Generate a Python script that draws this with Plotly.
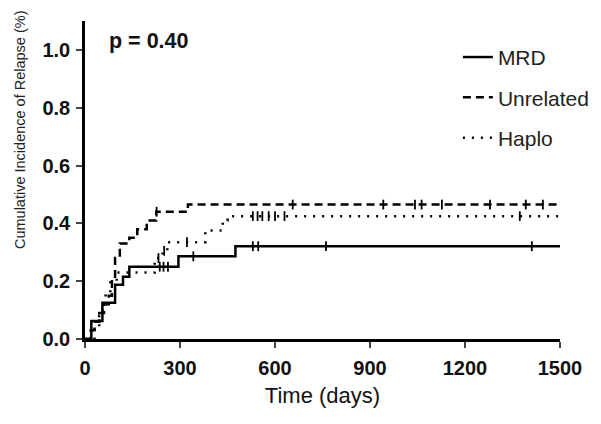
import numpy as np
import plotly.graph_objects as go

# ---- data ----
mrd_t = [0, 20, 55, 95, 120, 140, 295, 475, 1500]
mrd_v = [0, 0.0625, 0.125, 0.1875, 0.215, 0.25, 0.286, 0.321, 0.321]
mrd_cens = [236, 248, 262, 342, 530, 547, 761, 1411]

unr_t = [0, 18, 30, 45, 60, 75, 85, 95, 110, 140, 165, 195, 225, 325, 1500]
unr_v = [0, 0.03, 0.06, 0.09, 0.12, 0.15, 0.20, 0.28, 0.33, 0.35, 0.38, 0.41, 0.44, 0.465, 0.465]
unr_cens = [226, 656, 942, 1042, 1063, 1127, 1279, 1392, 1446]

hap_t = [0, 30, 45, 55, 65, 80, 100, 220, 245, 260, 380, 435, 450, 1500]
hap_v = [0, 0.04, 0.08, 0.12, 0.16, 0.20, 0.23, 0.28, 0.305, 0.335, 0.375, 0.41, 0.425, 0.425]
hap_cens = [232, 250, 322, 530, 545, 560, 580, 600, 630, 1373]

series_names = ["MRD", "Unrelated", "Haplo"]
x_ticks = [0, 300, 600, 900, 1200, 1500]
y_ticks = [0.0, 0.2, 0.4, 0.6, 0.8, 1.0]

def step_at(times, vals, ts):
    idx = np.searchsorted(np.array(times), np.array(ts), side="right") - 1
    return [vals[i] for i in idx]

FONT = "Liberation Sans, Arial"
fig = go.Figure()
styles = [("solid", 2.5), ("8px,5px", 2.5), ("2px,7px", 2.5)]
data = [(mrd_t, mrd_v, mrd_cens), (unr_t, unr_v, unr_cens), (hap_t, hap_v, hap_cens)]
for name, (t, v, c), (dash, w) in zip(series_names, data, styles):
    fig.add_trace(go.Scatter(
        x=t, y=v, mode="lines", line=dict(color="black", width=w, dash=dash, shape="hv"),
        name=name, legendgroup=name, showlegend=True))
    fig.add_trace(go.Scatter(
        x=c, y=step_at(t, v, c), mode="markers",
        marker=dict(symbol="line-ns", size=7, line=dict(color="black", width=1.8)),
        legendgroup=name, showlegend=False, hoverinfo="skip"))

tickfont = dict(family=FONT, size=20, color="#111", weight="bold")
fig.update_layout(
    width=593, height=416,
    margin=dict(l=77, r=41, t=13, b=85, autoexpand=False),
    plot_bgcolor="white", paper_bgcolor="white",
    showlegend=True,
    legend=dict(x=0.785, y=0.95, xanchor="left", yanchor="top",
                font=dict(family=FONT, size=21, color="#222"),
                tracegroupgap=10, bgcolor="rgba(0,0,0,0)"),
    xaxis=dict(range=[0, 1500], tickvals=x_ticks, ticks="outside", ticklen=6, tickwidth=2,
               showline=True, linecolor="black", linewidth=2.5, showgrid=False, zeroline=False,
               automargin=False, tickfont=tickfont, ticklabelstandoff=3,
               title=dict(text="Time (days)", font=dict(family=FONT, size=22, color="#111"),
                          standoff=10)),
    yaxis=dict(range=[0, 1.1], tickvals=y_ticks, tickformat=".1f", ticks="outside", ticklen=6, tickwidth=2,
               showline=True, linecolor="black", linewidth=2.5, showgrid=False, zeroline=False,
               automargin=False, tickfont=tickfont, ticklabelstandoff=2),
    annotations=[
        dict(text="p = 0.40", x=0.046, y=1.03, xref="paper", yref="y", xanchor="left", yanchor="middle",
             showarrow=False, font=dict(family=FONT, size=21.5, color="#111", weight="bold")),
        dict(text="Cumulative Incidence of Relapse (%)", x=-0.137, y=0.66, xref="paper", yref="paper",
             textangle=-90, showarrow=False, xanchor="center", yanchor="middle",
             font=dict(family=FONT, size=14.5, color="#222")),
    ],
)
fig.write_html("out.html")
